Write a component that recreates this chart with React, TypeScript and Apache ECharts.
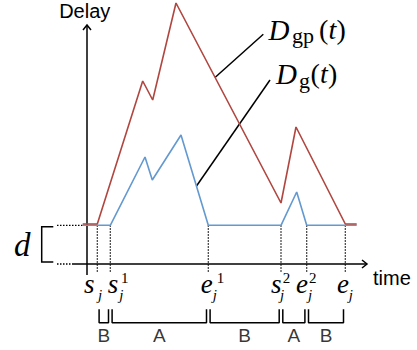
import React, { useEffect, useRef } from 'react';
import * as echarts from 'echarts';

// ---- data (time units on x, delay units on y) ----
const eventTimes = [10.3, 23.3, 121.3, 194, 219.7, 258.3];
const eventMain = ['s', 's', 'e', 's', 'e', 'e'];
const eventSub = ['j', 'j', 'j', 'j', 'j', 'j'];
const eventSup = ['', '1', '1', '2', '2', ''];
const phaseLabels = ['B', 'A', 'B', 'A', 'B'];

const gpTime = [-4.3, 10.3, 55.7, 65.7, 89, 194, 209, 258.3, 269.7];
const gpDelay = [40, 40, 183, 164, 261, 61, 137, 40, 40];
const gTime = [-4.3, 23.3, 58, 65.3, 94, 121.3, 194, 209.7, 219.7, 269.7];
const gDelay = [38.7, 38.7, 107, 84, 129, 38.7, 38.7, 72, 38.7, 38.7];
const dLevel = 38.7;

const gpLeader = [[128, 186.5], [176.3, 229.7]];
const gLeader = [[109.5, 78], [183, 184]];

// ---- layout ----
const X_MIN = -87, X_MAX = 330, Y_MIN = -86, Y_MAX = 264;
const RED = '#b0463f';
const BLUE = '#6399d0';
const SERIF = '"Liberation Serif", "Times New Roman", serif';
const SANS = '"Liberation Sans", Arial, Helvetica, sans-serif';
const labelDx = [-13.3, -2.6, -7.6, -10, -10.7, -8.3];
const subDx = [14, 11.6, 12, 9, 12, 11.7];
const supDx = [0, 13.3, 16, 11.7, 13, 0];

const seg = (pts: number[][], color: string, width: number, type: any = 'solid', z = 2) => ({
  type: 'line',
  data: pts,
  symbol: 'none',
  silent: true,
  clip: false,
  z,
  lineStyle: { color, width, type },
});

export default function App() {
  const ref = useRef<HTMLDivElement>(null);
  useEffect(() => {
    document.body.style.margin = '0';
    const chart = echarts.init(ref.current!, null, { renderer: 'svg' });
    const series: any[] = [];
    // axes
    series.push(seg([[-15, 0], [280, 0]], '#000', 1.5));
    series.push(seg([[0, -11], [0, 239]], '#000', 1.5));
    // dotted guides
    series.push(seg([[-30, 0], [-15, 0]], '#000', 1.3, [1.5, 1.5]));
    series.push(seg([[-30, dLevel], [-4.3, dLevel]], '#000', 1.3, [1.5, 1.5]));
    eventTimes.forEach((t) => series.push(seg([[t, dLevel], [t, -9]], '#000', 1.2, [1.5, 1.5])));
    // leader lines
    series.push(seg(gpLeader, '#000', 1.5));
    series.push(seg(gLeader, '#000', 1.5));
    // curves
    series.push(seg(gTime.map((t, i) => [t, gDelay[i]]), BLUE, 1.6, 'solid', 4));
    series.push(seg(gpTime.map((t, i) => [t, gpDelay[i]]), RED, 1.6, 'solid', 5));
    // brackets
    const inset = 1.8;
    phaseLabels.forEach((_, i) => {
      const a = eventTimes[i] + inset;
      const b = eventTimes[i + 1] - inset;
      series.push(seg([[a, -45.3], [a, -58.7], [b, -58.7], [b, -45.3]], '#000', 1.5));
    });
    series.push({
      type: 'scatter',
      symbolSize: 0,
      silent: true,
      data: phaseLabels.map((p, i) => ({ name: p, value: [(eventTimes[i] + eventTimes[i + 1]) / 2, -71] })),
      label: {
        show: true,
        position: 'inside',
        formatter: (p: any) => p.name,
        fontSize: 19,
        fontFamily: SANS,
        color: '#000',
      },
    });

    chart.setOption({
      animation: false,
      grid: { left: 0, right: 0, top: 0, bottom: 0 },
      xAxis: { type: 'value', min: X_MIN, max: X_MAX, show: false },
      yAxis: { type: 'value', min: Y_MIN, max: Y_MAX, show: false },
      series,
    });

    const px = (t: number, v: number) => chart.convertToPixel({ gridIndex: 0 }, [t, v]) as number[];
    const g: any[] = [];
    const txt = (x: number, y: number, text: string, font: string, align = 'left') =>
      g.push({
        type: 'text',
        x,
        y,
        silent: true,
        style: { text, font, fill: '#000', textAlign: align, textVerticalAlign: 'middle' },
      });
    // arrows
    const xe = px(280, 0);
    const ye = px(0, 239);
    g.push({ type: 'polyline', silent: true, shape: { points: [[xe[0] - 5, xe[1] - 4], xe, [xe[0] - 5, xe[1] + 4]] }, style: { stroke: '#000', lineWidth: 1.5, fill: null } });
    g.push({ type: 'polyline', silent: true, shape: { points: [[ye[0] - 4, ye[1] + 5], ye, [ye[0] + 4, ye[1] + 5]] }, style: { stroke: '#000', lineWidth: 1.5, fill: null } });
    // d bracket
    const dTop = px(0, dLevel)[1] + 1.5;
    const dBot = px(0, 0)[1] - 2;
    g.push({ type: 'polyline', silent: true, shape: { points: [[53.3, dTop], [41.7, dTop], [41.7, dBot], [53.3, dBot]] }, style: { stroke: '#000', lineWidth: 1.5, fill: null } });
    txt(14, 244.9, 'd', `italic 33px ${SERIF}`);
    // axis titles
    txt(84.7, 10.7, 'Delay', `20px ${SANS}`, 'center');
    txt(373, 278.4, 'time', `20px ${SANS}`);
    // event labels
    eventTimes.forEach((t, i) => {
      const x0 = px(t, 0)[0] + labelDx[i];
      txt(x0, 284.4, eventMain[i], `italic 27px ${SERIF}`);
      txt(x0 + subDx[i], 294.6, eventSub[i], `italic 15px ${SERIF}`);
      if (eventSup[i]) txt(x0 + supDx[i], 278.2, eventSup[i], `15px ${SERIF}`);
    });
    // curve names
    txt(268.5, 29.5, 'D', `italic 29px ${SERIF}`);
    txt(292, 35.9, 'gp', `22px ${SERIF}`);
    txt(319, 29.5, '(', `28px ${SERIF}`);
    txt(328.5, 29.5, 't', `italic 28px ${SERIF}`);
    txt(336.5, 29.5, ')', `28px ${SERIF}`);
    txt(276, 73.5, 'D', `italic 29px ${SERIF}`);
    txt(299, 80.6, 'g', `22px ${SERIF}`);
    txt(310.5, 73.5, '(', `28px ${SERIF}`);
    txt(320, 73.5, 't', `italic 28px ${SERIF}`);
    txt(328, 73.5, ')', `28px ${SERIF}`);
    chart.setOption({ graphic: g });
    return () => chart.dispose();
  }, []);
  return <div ref={ref} style={{ width: 417, height: 350 }} />;
}
